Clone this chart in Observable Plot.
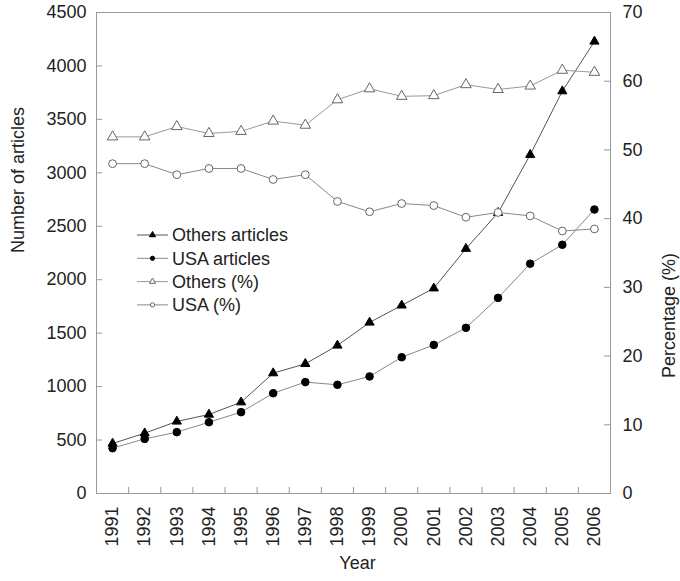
<!DOCTYPE html>
<html><head><meta charset="utf-8">
<script src="https://cdn.jsdelivr.net/npm/d3@7"></script>
<script src="https://cdn.jsdelivr.net/npm/@observablehq/plot@0.6"></script>
<style>body{margin:0;background:#fff} #chart{width:680px;height:581px}</style>
</head><body><div id="chart"></div>
<script>
const years = [1991,1992,1993,1994,1995,1996,1997,1998,1999,2000,2001,2002,2003,2004,2005,2006];
const othersArticles = [468,564,674,739,854,1126,1213,1385,1600,1760,1920,2290,2626,3169,3764,4229];
const usaArticles = [424,511,574,667,761,938,1042,1017,1095,1275,1390,1550,1830,2150,2327,2657];
const othersPct = [51.9,51.9,53.4,52.4,52.7,54.2,53.6,57.3,58.9,57.8,57.9,59.5,58.8,59.3,61.6,61.3];
const usaPct = [48.0,48.0,46.4,47.3,47.3,45.7,46.4,42.5,41.0,42.2,41.9,40.2,40.9,40.4,38.2,38.5];
const leftTicks = [0,500,1000,1500,2000,2500,3000,3500,4000,4500];
const rightTicks = [0,10,20,30,40,50,60,70];
const seriesNames = ["Others articles","USA articles","Others (%)","USA (%)"];

const K = 4500 / 70; // map percentage onto article scale
const boundaries = years.slice(1).map(y => y - 0.5);
const font = "'Liberation Sans', Arial, sans-serif";
const FS = 18;

const rows = (vals, scale = 1) => years.map((y, i) => ({year: y, v: vals[i] * scale}));
const data = [rows(othersArticles), rows(usaArticles), rows(othersPct, K), rows(usaPct, K)];

const styles = [
  {line: "#555", symbol: "triangle", fill: "#000", stroke: "#000", r: 3.4},
  {line: "#888", symbol: "circle", fill: "#000", stroke: "#000", r: 3.8},
  {line: "#999", symbol: "triangle", fill: "#fff", stroke: "#666", r: 3.9},
  {line: "#888", symbol: "circle", fill: "#fff", stroke: "#666", r: 3.9}
];

const seriesMarks = data.flatMap((d, i) => [
  Plot.line(d, {x: "year", y: "v", stroke: styles[i].line, strokeWidth: 1}),
  Plot.dot(d, {x: "year", y: "v", symbol: () => styles[i].symbol, r: styles[i].r,
    fill: styles[i].fill, stroke: styles[i].stroke, strokeWidth: 1})
]);

const svg = Plot.plot({
  width: 680, height: 581,
  marginLeft: 96, marginRight: 70, marginTop: 12, marginBottom: 88,
  style: {fontFamily: font, fontSize: FS + "px", color: "#222", background: "#fff"},
  x: {domain: [1990.5, 2006.5]},
  y: {domain: [0, 4500]},
  symbol: {type: "identity"},
  marks: [
    Plot.frame({stroke: "#999"}),
    Plot.axisY(leftTicks, {anchor: "left", tickSize: 0, tickPadding: 10, label: null, tickFormat: d => String(d), fontSize: FS}),
    Plot.ruleY(leftTicks.slice(1, -1), {x1: 1990.5, x2: 1990.5 + 0.19, stroke: "#999"}),
    Plot.axisY(rightTicks.map(p => p * K), {anchor: "right", tickSize: 0, tickPadding: 12, label: null, tickFormat: d => String(Math.round(d / K)), fontSize: FS}),
    Plot.ruleY(rightTicks.slice(1, -1).map(p => p * K), {x1: 2006.5 - 0.19, x2: 2006.5, stroke: "#999"}),
    Plot.axisX(years, {anchor: "bottom", tickSize: 0, tickPadding: 13, tickRotate: -90, label: null, tickFormat: d => String(d), fontSize: FS}),
    Plot.ruleX(boundaries, {y1: 0, y2: 4500 * 6 / 481, stroke: "#999"}),
    ...seriesMarks,
    Plot.text(["Number of articles"], {frameAnchor: "left", rotate: -90, dx: -78, fontSize: FS, fill: "#222"}),
    Plot.text(["Percentage (%)"], {frameAnchor: "right", rotate: -90, dx: 59, fontSize: FS, fill: "#222"}),
    Plot.text(["Year"], {frameAnchor: "bottom", dy: 75, dx: 4, fontSize: FS, fill: "#222"})
  ]
});

// legend
const lg = d3.select(svg).append("g").attr("transform", "translate(137,235)")
  .attr("font-family", font).attr("font-size", FS).attr("fill", "#222").attr("text-anchor", "start");
seriesNames.forEach((name, i) => {
  const g = lg.append("g").attr("transform", `translate(0,${i * 23.3})`);
  const st = styles[i];
  g.append("line").attr("x1", 0).attr("x2", 31).attr("y1", 0).attr("y2", 0)
    .attr("stroke", st.line).attr("stroke-width", 1);
  const sym = st.symbol === "triangle" ? d3.symbolTriangle : d3.symbolCircle;
  g.append("path").attr("d", d3.symbol(sym, st.symbol === "triangle" ? 16 : 14)())
    .attr("transform", "translate(15.5,0)").attr("fill", st.fill).attr("stroke", st.stroke).attr("stroke-width", 1);
  g.append("text").attr("x", 35).attr("y", 0).attr("dy", "0.35em").attr("text-anchor", "start").text(name);
});

document.getElementById("chart").appendChild(svg);
</script></body></html>
